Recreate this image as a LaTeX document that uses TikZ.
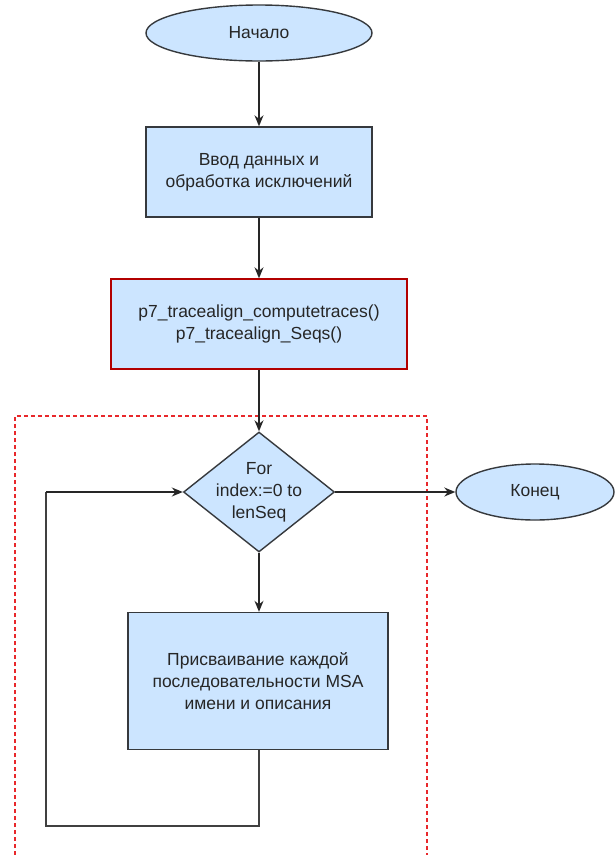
\documentclass[tikz,border=0pt]{standalone}
\usepackage{fontspec}
\setmainfont{Liberation Sans}
\usetikzlibrary{shapes.geometric,arrows.meta}
\definecolor{fillblue}{HTML}{CCE5FF}
\definecolor{edgegrey}{HTML}{36393D}
\definecolor{boxred}{HTML}{B20000}
\definecolor{dashred}{HTML}{E8282B}
\tikzset{
  txt/.style={font=\fontsize{17.5}{22}\selectfont, text=black!85, align=center},
  base/.style={fill=fillblue, draw=edgegrey, line width=1.4pt, txt, inner sep=0pt},
  oval/.style={base, ellipse},
  procbox/.style={base, rectangle},
  decide/.style={base, diamond, aspect=1.25},
  conn/.style={draw=black!85, line width=1.4pt, -{Stealth[length=11pt,width=9pt]}},
  plain/.style={draw=black!75, line width=1.4pt},
}
\begin{document}
\begin{tikzpicture}[x=1pt,y=-1pt]
\useasboundingbox (0,0) rectangle (614,855);
\fill[white] (0,0) rectangle (614,855);
% dashed region
\draw[dashred, line width=1.3pt, dash pattern=on 4pt off 3pt] (15,855) -- (15,416) -- (427,416) -- (427,855);
\node[oval, minimum width=226pt, minimum height=56pt] (start) at (259,33) {Начало};
\node[procbox, minimum width=226pt, minimum height=90pt] (input) at (259,172) {Ввод данных и\\обработка исключений};
\node[procbox, draw=boxred, minimum width=296pt, minimum height=90pt] (trace) at (259,324) {p7\_tracealign\_computetraces()\\p7\_tracealign\_Seqs()};
\node[decide, minimum width=151pt, minimum height=120pt, label={[txt]center:For\\index:=0 to\\lenSeq}] (loop) at (259,492) {};
\node[oval, minimum width=158pt, minimum height=56pt] (end) at (535,492) {Конец};
\node[procbox, minimum width=260pt, minimum height=137pt] (assign) at (258,681) {Присваивание каждой\\последовательности MSA\\имени и описания};
\coordinate (c1) at (259,826);
\coordinate (c2) at (46,826);
\coordinate (c3) at (46,492);
\draw[conn] (start) -- (input);
\draw[conn] (input) -- (trace);
\draw[conn] (trace) -- (loop);
\draw[conn] (loop) -- (end);
\draw[conn] (loop.south) -- (loop.south |- assign.north);
\draw[plain] (assign.south -| c1) -- (c1) -- (c2) -- (c3);
\draw[conn] (c3) -- (loop.west);
\end{tikzpicture}
\end{document}
